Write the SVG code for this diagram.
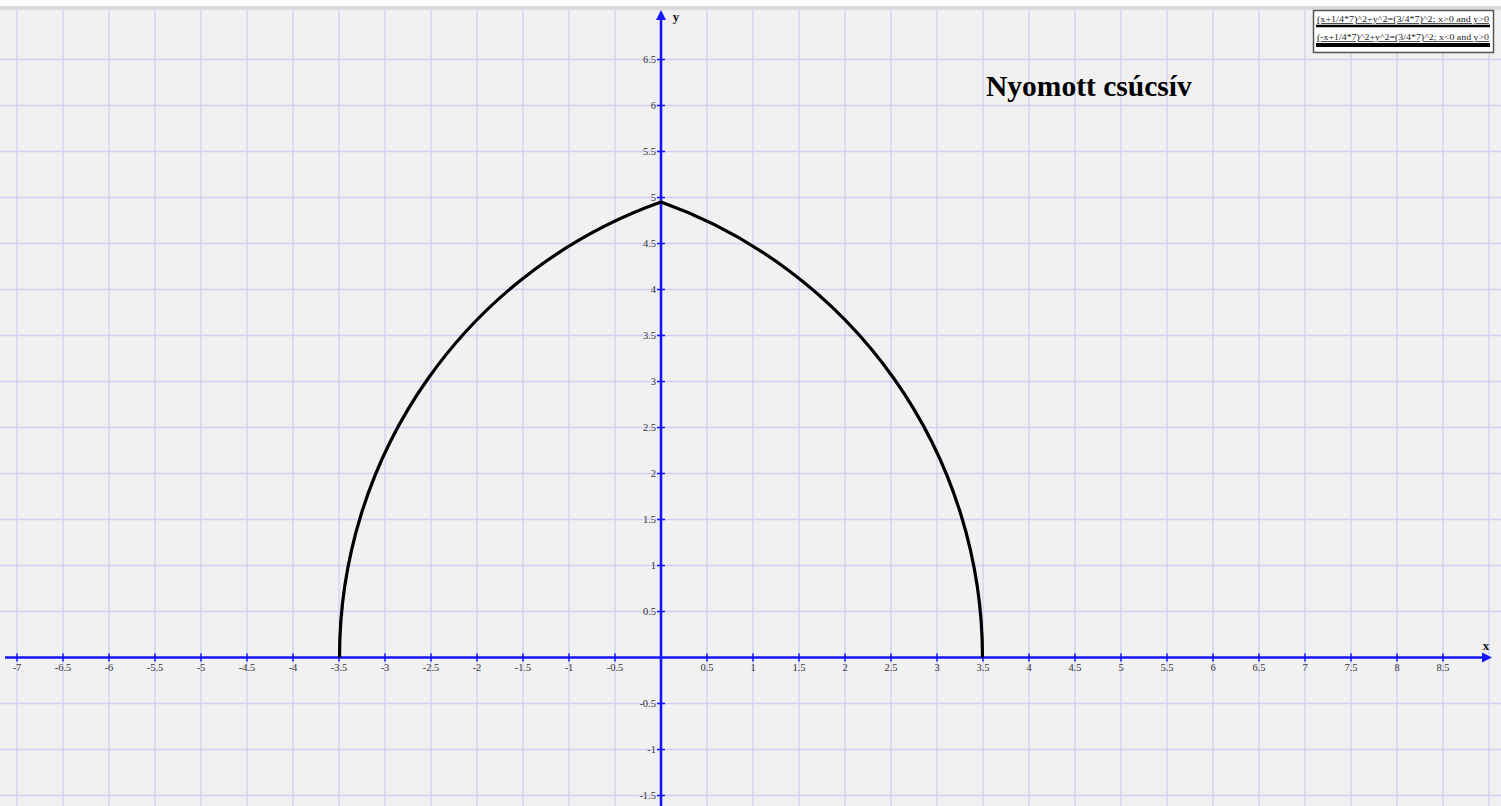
<svg xmlns="http://www.w3.org/2000/svg" width="1501" height="806" viewBox="0 0 1501 806">
<style>
.g{stroke:#d0d0f6;stroke-width:1.3;fill:none}
.ax{stroke:#1414ff;stroke-width:2.6;fill:none}
.tk{stroke:#1414ff;stroke-width:1.5}
.lx{font-family:"Liberation Serif",serif;font-size:10.5px;fill:#333;text-anchor:middle}
.ly{font-family:"Liberation Serif",serif;font-size:10.5px;fill:#333;text-anchor:end}
.cv{stroke:#000;stroke-width:3.2;fill:none}
.lg{font-family:"Liberation Serif",serif;font-size:8px;fill:#222;text-decoration:underline}
</style>
<rect x="0" y="0" width="1501" height="806" fill="#f1f1f1"/>
<rect x="0" y="0" width="1501" height="6" fill="#ffffff"/>
<rect x="0" y="6" width="1501" height="4" fill="#dadada"/>
<g id="grid">
<path class="g" d="M17 10V806M63 10V806M109 10V806M155 10V806M201 10V806M247 10V806M293 10V806M339 10V806M385 10V806M431 10V806M477 10V806M523 10V806M569 10V806M615 10V806M707 10V806M753 10V806M799 10V806M845 10V806M891 10V806M937 10V806M983 10V806M1029 10V806M1075 10V806M1121 10V806M1167 10V806M1213 10V806M1259 10V806M1305 10V806M1351 10V806M1397 10V806M1443 10V806M1489 10V806"/>
<path class="g" d="M0 59.5H1501M0 105.5H1501M0 151.5H1501M0 197.5H1501M0 243.5H1501M0 289.5H1501M0 335.5H1501M0 381.5H1501M0 427.5H1501M0 473.5H1501M0 519.5H1501M0 565.5H1501M0 611.5H1501M0 703.5H1501M0 749.5H1501M0 795.5H1501"/>
</g>
<g id="axes">
<line class="ax" x1="5" y1="657.5" x2="1484" y2="657.5"/>
<polygon points="1492,657.5 1482,652.5 1482,662.5" fill="#1414ff"/>
<line class="ax" x1="661" y1="806" x2="661" y2="18"/>
<polygon points="661,10 656,20 666,20" fill="#1414ff"/>
<path class="tk" d="M17 653.5v8M63 653.5v8M109 653.5v8M155 653.5v8M201 653.5v8M247 653.5v8M293 653.5v8M339 653.5v8M385 653.5v8M431 653.5v8M477 653.5v8M523 653.5v8M569 653.5v8M615 653.5v8M707 653.5v8M753 653.5v8M799 653.5v8M845 653.5v8M891 653.5v8M937 653.5v8M983 653.5v8M1029 653.5v8M1075 653.5v8M1121 653.5v8M1167 653.5v8M1213 653.5v8M1259 653.5v8M1305 653.5v8M1351 653.5v8M1397 653.5v8M1443 653.5v8"/>
<path class="tk" d="M657 59.5h8M657 105.5h8M657 151.5h8M657 197.5h8M657 243.5h8M657 289.5h8M657 335.5h8M657 381.5h8M657 427.5h8M657 473.5h8M657 519.5h8M657 565.5h8M657 611.5h8M657 703.5h8M657 749.5h8M657 795.5h8"/>
<text x="1486" y="650" font-family="Liberation Serif,serif" font-size="13" font-weight="bold" fill="#111" text-anchor="middle">x</text>
<text x="676" y="21" font-family="Liberation Serif,serif" font-size="13" font-weight="bold" fill="#111" text-anchor="middle">y</text>
</g>
<g id="xlabels">
<text class="lx" x="17" y="671">-7</text>
<text class="lx" x="63" y="671">-6.5</text>
<text class="lx" x="109" y="671">-6</text>
<text class="lx" x="155" y="671">-5.5</text>
<text class="lx" x="201" y="671">-5</text>
<text class="lx" x="247" y="671">-4.5</text>
<text class="lx" x="293" y="671">-4</text>
<text class="lx" x="339" y="671">-3.5</text>
<text class="lx" x="385" y="671">-3</text>
<text class="lx" x="431" y="671">-2.5</text>
<text class="lx" x="477" y="671">-2</text>
<text class="lx" x="523" y="671">-1.5</text>
<text class="lx" x="569" y="671">-1</text>
<text class="lx" x="615" y="671">-0.5</text>
<text class="lx" x="707" y="671">0.5</text>
<text class="lx" x="753" y="671">1</text>
<text class="lx" x="799" y="671">1.5</text>
<text class="lx" x="845" y="671">2</text>
<text class="lx" x="891" y="671">2.5</text>
<text class="lx" x="937" y="671">3</text>
<text class="lx" x="983" y="671">3.5</text>
<text class="lx" x="1029" y="671">4</text>
<text class="lx" x="1075" y="671">4.5</text>
<text class="lx" x="1121" y="671">5</text>
<text class="lx" x="1167" y="671">5.5</text>
<text class="lx" x="1213" y="671">6</text>
<text class="lx" x="1259" y="671">6.5</text>
<text class="lx" x="1305" y="671">7</text>
<text class="lx" x="1351" y="671">7.5</text>
<text class="lx" x="1397" y="671">8</text>
<text class="lx" x="1443" y="671">8.5</text>
</g>
<g id="ylabels">
<text class="ly" x="656" y="63">6.5</text>
<text class="ly" x="656" y="109">6</text>
<text class="ly" x="656" y="155">5.5</text>
<text class="ly" x="656" y="201">5</text>
<text class="ly" x="656" y="247">4.5</text>
<text class="ly" x="656" y="293">4</text>
<text class="ly" x="656" y="339">3.5</text>
<text class="ly" x="656" y="385">3</text>
<text class="ly" x="656" y="431">2.5</text>
<text class="ly" x="656" y="477">2</text>
<text class="ly" x="656" y="523">1.5</text>
<text class="ly" x="656" y="569">1</text>
<text class="ly" x="656" y="615">0.5</text>
<text class="ly" x="656" y="707">-0.5</text>
<text class="ly" x="656" y="753">-1</text>
<text class="ly" x="656" y="799">-1.5</text>
</g>
<g id="curves">
<path id="arc-left" class="cv" d="M339.5 657.5A483 483 0 0 1 661 202.1"/>
<path id="arc-right" class="cv" d="M661 202.1A483 483 0 0 1 982.5 657.5"/>
</g>
<g id="title">
<text x="986" y="96" font-family="Liberation Serif,serif" font-size="29.5" font-weight="bold" fill="#000">Nyomott csúcsív</text>
</g>
<g id="legend">
<rect x="1313.5" y="10.5" width="180" height="42" fill="#ffffff" stroke="#555" stroke-width="1.5"/>
<text class="lg" x="1317" y="22" textLength="172" lengthAdjust="spacingAndGlyphs">(x+1/4*7)^2+y^2=(3/4*7)^2; x&gt;0 and y&gt;0</text>
<line x1="1316" y1="26" x2="1490" y2="26" stroke="#000" stroke-width="2.5"/>
<text class="lg" x="1317" y="40" textLength="172" lengthAdjust="spacingAndGlyphs">(-x+1/4*7)^2+y^2=(3/4*7)^2; x&lt;0 and y&gt;0</text>
<line x1="1316" y1="45" x2="1490" y2="45" stroke="#000" stroke-width="4"/>
</g>
</svg>
